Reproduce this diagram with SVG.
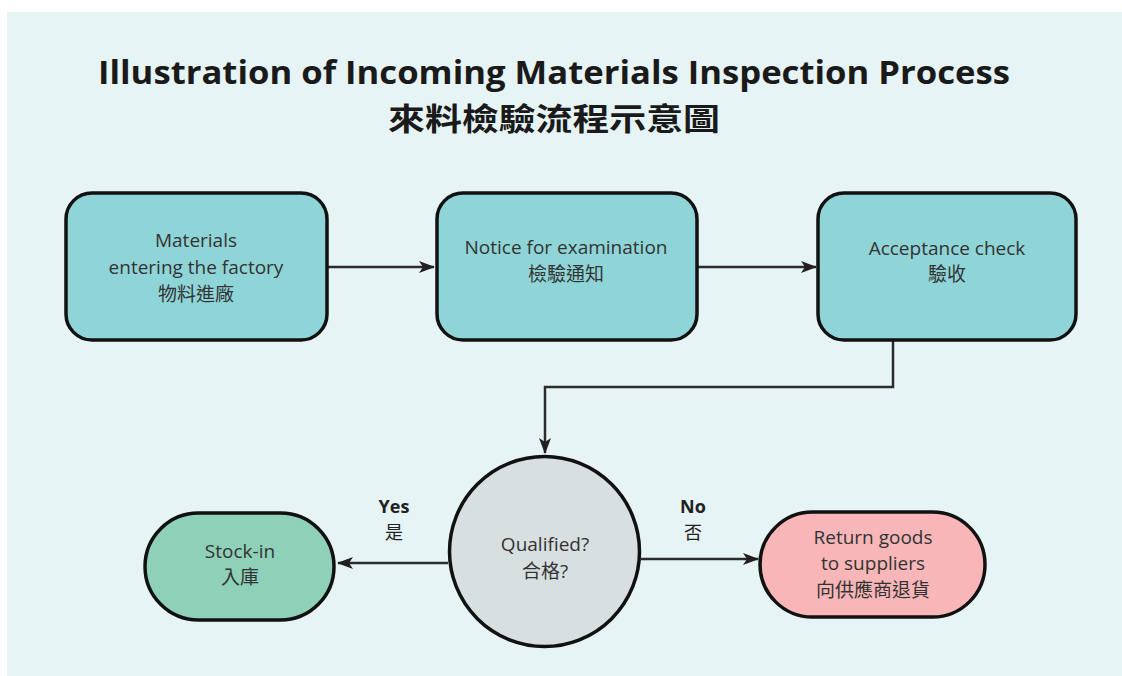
<svg xmlns="http://www.w3.org/2000/svg" width="1122" height="676" viewBox="0 0 1122 676">
<defs>
<style>
.node{stroke:#111;stroke-width:3.5}
.proc{fill:#8fd5d8}
.t{font-family:"Open Sans","Noto Sans CJK TC",sans-serif;font-size:19px;fill:#333;text-anchor:middle}
.lbl{font-family:"Open Sans","Noto Sans CJK TC",sans-serif;font-size:18px;fill:#222;text-anchor:middle}
.conn{fill:none;stroke:#2b2b2b;stroke-width:2.5}
</style>
<marker id="ah" viewBox="0 0 16 12" refX="15" refY="6" markerWidth="16" markerHeight="12" markerUnits="userSpaceOnUse" orient="auto">
<path d="M0,0 L16,6 L0,12 L4,6 z" fill="#231f20"/>
</marker>
</defs>
<rect x="7" y="12" width="1115" height="664" fill="#e6f4f5"/>
<g id="title">
<text x="554" y="84" text-anchor="middle" font-family="'Open Sans',sans-serif" font-weight="bold" font-size="33" fill="#1a1a1a" textLength="912" lengthAdjust="spacingAndGlyphs">Illustration of Incoming Materials Inspection Process</text>
<text x="554" y="130" text-anchor="middle" font-family="'Noto Sans CJK TC',sans-serif" font-weight="bold" font-size="31" fill="#1a1a1a" textLength="332" lengthAdjust="spacingAndGlyphs">來料檢驗流程示意圖</text>
</g>
<g id="connectors">
<line class="conn" x1="328" y1="267" x2="434" y2="267" marker-end="url(#ah)"/>
<line class="conn" x1="698" y1="267" x2="816" y2="267" marker-end="url(#ah)"/>
<polyline class="conn" points="893,341 893,387 545,387 545,453" marker-end="url(#ah)"/>
<line class="conn" x1="448" y1="563" x2="338" y2="563" marker-end="url(#ah)"/>
<line class="conn" x1="641" y1="559" x2="758" y2="559" marker-end="url(#ah)"/>
</g>
<g id="label-yes">
<text class="lbl" x="394" y="513" font-weight="bold">Yes</text>
<text class="lbl" x="394" y="539">是</text>
</g>
<g id="label-no">
<text class="lbl" x="693" y="513" font-weight="bold">No</text>
<text class="lbl" x="693" y="539">否</text>
</g>
<g id="node-materials">
<rect class="node proc" x="66" y="193" width="261" height="147" rx="26"/>
<text class="t" x="196" y="247">Materials</text>
<text class="t" x="196" y="274">entering the factory</text>
<text class="t" x="196" y="301">物料進廠</text>
</g>
<g id="node-notice">
<rect class="node proc" x="437" y="193" width="260" height="147" rx="26"/>
<text class="t" x="566" y="254">Notice for examination</text>
<text class="t" x="566" y="281">檢驗通知</text>
</g>
<g id="node-acceptance">
<rect class="node proc" x="818" y="193" width="258" height="147" rx="26"/>
<text class="t" x="947" y="255">Acceptance check</text>
<text class="t" x="947" y="281">驗收</text>
</g>
<g id="node-qualified">
<circle class="node" cx="544.5" cy="551.5" r="95" fill="#d8dfe0"/>
<text class="t" x="545" y="551">Qualified?</text>
<text class="t" x="545" y="578">合格?</text>
</g>
<g id="node-stockin">
<rect class="node" x="145" y="513" width="189" height="107" rx="53.5" fill="#8fd0b8"/>
<text class="t" x="240" y="558">Stock-in</text>
<text class="t" x="240" y="584">入庫</text>
</g>
<g id="node-return">
<rect class="node" x="760" y="512" width="225" height="105" rx="52.5" fill="#f8b6b8"/>
<text class="t" x="873" y="544">Return goods</text>
<text class="t" x="873" y="570">to suppliers</text>
<text class="t" x="873" y="597">向供應商退貨</text>
</g>
</svg>
